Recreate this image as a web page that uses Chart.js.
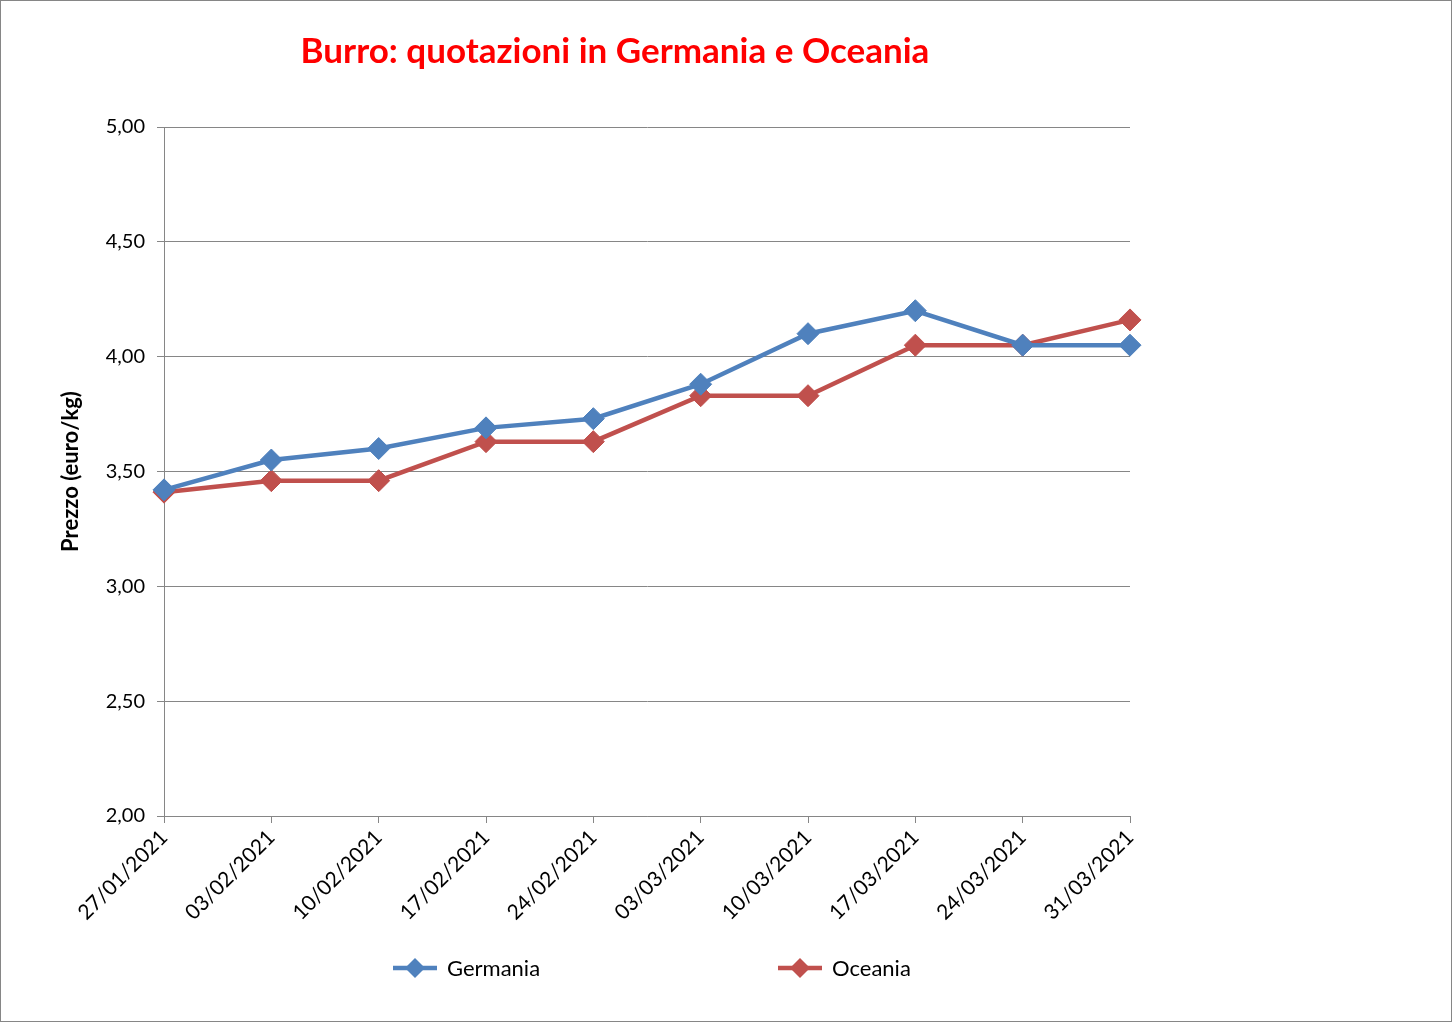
<!DOCTYPE html>
<html>
<head>
<meta charset="utf-8">
<script src="https://cdn.jsdelivr.net/npm/chart.js@4.4.1/dist/chart.umd.min.js"></script>
<style>
  html, body { margin: 0; padding: 0; background: #ffffff; }
  #wrap { width: 1453px; height: 1024px; position: relative; }
</style>
</head>
<body>
<div id="wrap"><canvas id="c" width="1453" height="1024"></canvas></div>
<script>
const titleText = "Burro: quotazioni in Germania e Oceania";
const yAxisTitle = "Prezzo (euro/kg)";
const categories = ["27/01/2021","03/02/2021","10/02/2021","17/02/2021","24/02/2021","03/03/2021","10/03/2021","17/03/2021","24/03/2021","31/03/2021"];
const germania = [3.42, 3.55, 3.60, 3.69, 3.73, 3.88, 4.10, 4.20, 4.05, 4.05];
const oceania  = [3.41, 3.46, 3.46, 3.63, 3.63, 3.83, 3.83, 4.05, 4.05, 4.16];
const seriesNames = ["Germania", "Oceania"];
const seriesColors = ["#4F81BD", "#C0504D"];

const FONT = "Lato, 'Liberation Sans', sans-serif";
const GRID = "#868686";

const decor = {
  id: 'decor',
  afterDraw(chart) {
    const ctx = chart.ctx;
    ctx.save();
    // outer border
    ctx.strokeStyle = GRID;
    ctx.lineWidth = 1;
    ctx.strokeRect(0.5, 0.5, chart.width - 2, chart.height - 3);
    // title
    ctx.fillStyle = "#FF0000";
    ctx.font = "bold 35px " + FONT;
    ctx.textAlign = "center";
    ctx.textBaseline = "middle";
    ctx.fillText(titleText, 615, 52);
    // legend
    const legendX = [393, 778];
    ctx.font = "22px " + FONT;
    ctx.textAlign = "left";
    for (let i = 0; i < seriesNames.length; i++) {
      const x0 = legendX[i], y = 968;
      ctx.strokeStyle = seriesColors[i];
      ctx.lineWidth = 4.5;
      ctx.beginPath();
      ctx.moveTo(x0, y);
      ctx.lineTo(x0 + 44, y);
      ctx.stroke();
      ctx.fillStyle = seriesColors[i];
      const cx = x0 + 22, r = 10;
      ctx.beginPath();
      ctx.moveTo(cx - r, y); ctx.lineTo(cx, y - r); ctx.lineTo(cx + r, y); ctx.lineTo(cx, y + r);
      ctx.closePath();
      ctx.fill();
      ctx.fillStyle = "#000000";
      ctx.fillText(seriesNames[i], x0 + 54, y + 1);
    }
    ctx.restore();
  }
};

function ds(label, data, color) {
  return {
    label, data,
    borderColor: color,
    backgroundColor: color,
    borderWidth: 4.5,
    pointStyle: 'rectRot',
    pointRadius: 11,
    pointBorderWidth: 1,
    pointBackgroundColor: color,
    pointBorderColor: color,
    tension: 0,
    fill: false
  };
}

new Chart(document.getElementById('c'), {
  type: 'line',
  data: {
    labels: categories,
    datasets: [ds(seriesNames[0], germania, seriesColors[0]), ds(seriesNames[1], oceania, seriesColors[1])]
  },
  options: {
    responsive: false,
    animation: false,
    devicePixelRatio: 1,
    layout: { padding: { left: 0, right: 323, top: 127, bottom: 0 } },
    plugins: {
      legend: { display: false },
      title: { display: false },
      tooltip: { enabled: false }
    },
    scales: {
      x: {
        offset: false,
        afterFit(scale) { scale.height = 208; },
        grid: { display: true, drawOnChartArea: false, drawTicks: true, tickLength: 7, color: GRID },
        border: { display: true, color: GRID, width: 1 },
        ticks: {
          color: "#000000",
          font: { family: FONT, size: 21 },
          minRotation: 45, maxRotation: 45,
          autoSkip: false,
          padding: 2
        }
      },
      y: {
        min: 2, max: 5,
        afterFit(scale) { scale.width = 164; },
        grid: { color: GRID, lineWidth: 1, drawTicks: true, tickLength: 7 },
        border: { display: true, color: GRID, width: 1 },
        ticks: {
          stepSize: 0.5,
          color: "#000000",
          font: { family: FONT, size: 20 },
          padding: 12,
          callback: v => v.toFixed(2).replace('.', ',')
        },
        title: {
          display: true,
          text: yAxisTitle,
          color: "#000000",
          font: { family: FONT, size: 22, weight: 'bold' },
          padding: { top: 58, bottom: 0 }
        }
      }
    }
  },
  plugins: [decor]
});
</script>
</body>
</html>
